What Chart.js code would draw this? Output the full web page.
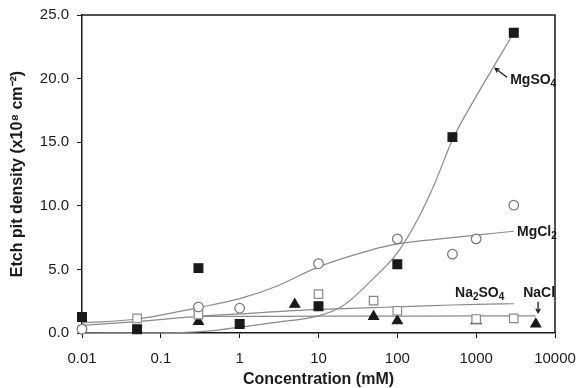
<!DOCTYPE html>
<html>
<head>
<meta charset="utf-8">
<script src="https://cdn.jsdelivr.net/npm/chart.js@4.4.0/dist/chart.umd.min.js"></script>
<style>
  html, body { margin: 0; padding: 0; background: #fff; }
  #wrap { width: 578px; height: 388px; }
</style>
</head>
<body>
<div id="wrap"><canvas id="etchChart" width="578" height="388"></canvas></div>
<script>
// axis ticks
const xTicks = [0.01, 0.1, 1, 10, 100, 1000, 10000];
const yTicks = [0, 5, 10, 15, 20, 25];

// measured points (concentration mM, pit density x10^8 cm^-2)
const mgso4Conc = [0.01, 0.05, 0.3, 1, 10, 100, 500, 3000];
const mgso4Pits = [1.25, 0.3, 5.1, 0.7, 2.1, 5.4, 15.4, 23.6];

const mgcl2Conc = [0.01, 0.3, 1, 10, 100, 500, 1000, 3000];
const mgcl2Pits = [0.3, 2.05, 1.95, 5.45, 7.4, 6.2, 7.4, 10.05];

const na2so4Conc = [0.05, 0.3, 10, 50, 100, 1000, 3000];
const na2so4Pits = [1.15, 1.45, 3.05, 2.55, 1.75, 1.1, 1.15];

const naclConc = [0.3, 5, 50, 100, 1000, 5700];
const naclPits = [0.9, 2.25, 1.3, 0.95, 0.95, 0.7];

// fitted curves
const mgso4FitConc = [0.01, 0.1, 0.3, 0.56, 1, 3, 10, 20, 50, 100, 180, 300, 500, 1000, 3000];
const mgso4FitPits = [0.0, 0.02, 0.1, 0.25, 0.45, 0.85, 1.35, 2.1, 4.3, 6.3, 8.9, 11.8, 15.2, 18.6, 23.6];

const mgcl2FitConc = [0.01, 0.05, 0.3, 1, 3, 10, 45, 100, 350, 1000, 3000];
const mgcl2FitPits = [0.8, 1.1, 2.0, 2.7, 3.7, 5.2, 6.5, 7.0, 7.4, 7.7, 8.0];

const na2so4FitConc = [0.01, 0.05, 0.3, 1, 10, 50, 100, 500, 1000, 3000];
const na2so4FitPits = [0.6, 0.9, 1.3, 1.5, 1.85, 2.0, 2.05, 2.2, 2.25, 2.3];

const naclFitConc = [0.3, 1, 10, 100, 1000, 5700];
const naclFitPits = [1.3, 1.3, 1.32, 1.33, 1.34, 1.35];

const FONT = "'Liberation Sans', Arial, Helvetica, sans-serif";
const INK = "#1a1a1a";
const CURVE = "#8a8a8a";

function pts(xs, ys) {
  return xs.map((v, i) => ({ x: v, y: ys[i] }));
}

function markerSet(label, xs, ys, style, radius, fill, stroke) {
  return {
    label: label,
    data: pts(xs, ys),
    showLine: false,
    clip: false,
    pointStyle: style,
    pointRadius: radius,
    pointHoverRadius: radius,
    backgroundColor: fill,
    borderColor: stroke,
    borderWidth: 1.2
  };
}

function curveSet(label, xs, ys) {
  return {
    label: label,
    data: pts(xs, ys),
    showLine: true,
    borderColor: CURVE,
    borderWidth: 1.2,
    pointRadius: 0,
    cubicInterpolationMode: "monotone",
    fill: false
  };
}

// draw text with subscript parts, e.g. [["MgSO"], ["4", true]]
function chemText(ctx, parts, x, y, size) {
  let cx = x;
  parts.forEach(p => {
    const sub = p[1];
    ctx.font = "bold " + (sub ? Math.round(size * 0.72) : size) + "px " + FONT;
    ctx.fillText(p[0], cx, sub ? y + size * 0.3 : y);
    cx += ctx.measureText(p[0]).width;
  });
}

function arrow(ctx, x1, y1, x2, y2) {
  const ang = Math.atan2(y2 - y1, x2 - x1);
  const h = 4.5;
  ctx.beginPath();
  ctx.moveTo(x1, y1);
  ctx.lineTo(x2, y2);
  ctx.moveTo(x2 - h * Math.cos(ang - 0.5), y2 - h * Math.sin(ang - 0.5));
  ctx.lineTo(x2, y2);
  ctx.lineTo(x2 - h * Math.cos(ang + 0.5), y2 - h * Math.sin(ang + 0.5));
  ctx.stroke();
}

const extras = {
  id: "extras",
  afterDraw(chart) {
    const { ctx, chartArea: a, scales } = chart;
    const sx = v => scales.x.getPixelForValue(v);
    const sy = v => scales.y.getPixelForValue(v);
    ctx.save();

    // top and right frame
    ctx.strokeStyle = INK;
    ctx.lineWidth = 1.5;
    ctx.beginPath();
    ctx.moveTo(a.left, a.top);
    ctx.lineTo(a.right, a.top);
    ctx.lineTo(a.right, a.bottom);
    ctx.stroke();

    // series labels
    ctx.fillStyle = INK;
    ctx.textBaseline = "middle";
    ctx.textAlign = "left";
    chemText(ctx, [["MgSO"], ["4", true]], sx(2700), sy(19.9), 14);
    chemText(ctx, [["MgCl"], ["2", true]], sx(3300), sy(7.95), 14);
    chemText(ctx, [["Na"], ["2", true], ["SO"], ["4", true]], sx(540), sy(3.15), 14);
    chemText(ctx, [["NaCl"]], sx(3950), sy(3.15), 14);

    // arrows
    ctx.strokeStyle = INK;
    ctx.lineWidth = 1.3;
    arrow(ctx, sx(2470), sy(20.1), sx(1742), sy(20.8));
    arrow(ctx, sx(6100), sy(2.45), sx(6100), sy(1.6));
    ctx.restore();
  }
};

new Chart(document.getElementById("etchChart"), {
  type: "scatter",
  data: {
    datasets: [
      markerSet("MgSO4", mgso4Conc, mgso4Pits, "rect", 6.2, INK, INK),
      markerSet("MgCl2", mgcl2Conc, mgcl2Pits, "circle", 4.8, "#fff", "#777"),
      markerSet("Na2SO4", na2so4Conc, na2so4Pits, "rect", 6.0, "#fff", "#888"),
      markerSet("NaCl", naclConc, naclPits, "triangle", 5.7, INK, INK),
      curveSet("MgSO4 fit", mgso4FitConc, mgso4FitPits),
      curveSet("MgCl2 fit", mgcl2FitConc, mgcl2FitPits),
      curveSet("Na2SO4 fit", na2so4FitConc, na2so4FitPits),
      curveSet("NaCl fit", naclFitConc, naclFitPits)
    ]
  },
  options: {
    responsive: false,
    animation: false,
    layout: { autoPadding: false, padding: { left: 4, top: 15, right: 23, bottom: 0 } },
    plugins: { legend: { display: false }, tooltip: { enabled: false } },
    scales: {
      x: {
        type: "logarithmic",
        min: xTicks[0],
        max: xTicks[xTicks.length - 1],
        afterBuildTicks: s => { s.ticks = xTicks.map(v => ({ value: v })); },
        afterFit: s => { s.height = 55; s.paddingLeft = 0; s.paddingRight = 0; },
        ticks: {
          color: INK,
          font: { family: FONT, size: 15 },
          padding: 12,
          maxRotation: 0,
          autoSkip: false,
          callback: v => String(v)
        },
        grid: { drawOnChartArea: false, drawTicks: true, tickLength: 5, color: INK },
        border: { display: true, color: INK, width: 1.5 },
        title: {
          display: true,
          text: "Concentration (mM)",
          color: INK,
          font: { family: FONT, size: 16, weight: "bold", lineHeight: 1 },
          padding: { top: 0, bottom: 0 }
        }
      },
      y: {
        min: yTicks[0],
        max: yTicks[yTicks.length - 1],
        afterBuildTicks: s => { s.ticks = yTicks.map(v => ({ value: v })); },
        afterFit: s => { s.width = 78; s.paddingTop = 0; s.paddingBottom = 0; },
        ticks: {
          color: INK,
          font: { family: FONT, size: 15 },
          padding: 8,
          callback: v => v.toFixed(1)
        },
        grid: { drawOnChartArea: false, drawTicks: true, tickLength: 5, color: INK },
        border: { display: true, color: INK, width: 1.5 },
        title: {
          display: true,
          text: "Etch pit density (x10\u2078 cm\u207B\u00B2)",
          color: INK,
          font: { family: FONT, size: 16, weight: "bold" },
          padding: { top: 4, bottom: 0 }
        }
      }
    }
  },
  plugins: [extras]
});
</script>
</body>
</html>
